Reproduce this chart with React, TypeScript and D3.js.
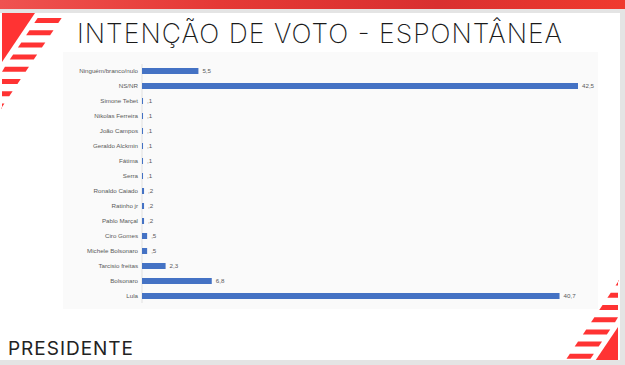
import React from "react";
import * as d3 from "d3";

// candidates from top to bottom, as in the slide
const categories = [
  "Ninguém/branco/nulo",
  "NS/NR",
  "Simone Tebet",
  "Nikolas Ferreira",
  "João Campos",
  "Geraldo Alckmin",
  "Fátima",
  "Serra",
  "Ronaldo Caiado",
  "Ratinho jr",
  "Pablo Marçal",
  "Ciro Gomes",
  "Michele Bolsonaro",
  "Tarcisio freitas",
  "Bolsonaro",
  "Lula",
];
const values = [5.5, 42.5, 0.1, 0.1, 0.1, 0.1, 0.1, 0.1, 0.2, 0.2, 0.2, 0.5, 0.5, 2.3, 6.8, 40.7];

const title = "INTENÇÃO DE VOTO - ESPONTÂNEA";
const subtitle = "PRESIDENTE";

const W = 625;
const H = 365;

// "0,1" -> ",1" like the excel export
const fmt = (v: number) => String(v).replace(".", ",").replace(/^0,/, ",");

// striped red corner mark, drawn for the top-left corner
function Stripes({ transform }: { transform?: string }) {
  const slope = 0.67;
  const edge = (y: number) => 35 - slope * (y - 13);
  const tri = `M2,13 L35,13 L2,62 Z`;
  const rows = d3.range(8).map((i) => 18 + i * 12.2);
  return (
    <g transform={transform} fill="#ff3333">
      <path d={tri} />
      {rows.map((y0, i) => {
        const y1 = y0 + 5;
        const r0 = edge(y0) + 30;
        const r1 = edge(y1) + 30;
        const l0 = Math.max(2, edge(y0) + 6);
        const l1 = Math.max(2, edge(y1) + 6);
        return <path key={i} d={`M${l0},${y0} L${r0},${y0} L${r1},${y1} L${l1},${y1} Z`} />;
      })}
    </g>
  );
}

export default function App() {
  const margin = { left: 142, top: 63.5, bottom: 303.5 };
  const y = d3
    .scaleBand<string>()
    .domain(categories)
    .range([margin.top, margin.bottom])
    .paddingInner(0.6)
    .paddingOuter(0.3);
  const x = d3.scaleLinear().domain([0, 42.5]).range([margin.left, 578]);
  const font = "'Liberation Sans', Arial, sans-serif";
  const thin = "Inter, 'Open Sans', sans-serif";

  return (
    <svg
      width={W}
      height={H}
      style={{ position: "fixed", left: 0, top: 0, display: "block" }}
      fontFamily={font}
    >
      <defs>
        <linearGradient id="band" x1="0" x2="1" y1="0" y2="0">
          <stop offset="0" stopColor="#ef5350" />
          <stop offset="0.35" stopColor="#e53935" />
          <stop offset="0.7" stopColor="#d93030" />
          <stop offset="1" stopColor="#f03a2e" />
        </linearGradient>
        <clipPath id="slide">
          <rect x={0} y={13} width={620} height={347} />
        </clipPath>
      </defs>
      <rect width={W} height={H} fill="#e4e4e4" />
      <rect width={W} height={9} fill="url(#band)" />
      <rect x={0} y={13} width={620} height={347} fill="#ffffff" />

      <g clipPath="url(#slide)">
        <Stripes />
        <g transform="translate(0,16)">
          <Stripes transform={`rotate(180 ${(2 + 618) / 2} ${(13 + 360) / 2})`} />
        </g>
      </g>

      <text
        x={77}
        y={43}
        fontFamily={thin}
        fontWeight={200}
        fontSize={26.5}
        fill="#1a1a1a"
        textLength={485}
        lengthAdjust="spacing"
      >
        {title}
      </text>

      {/* chart panel */}
      <rect x={63} y={52} width={535} height={257} fill="#fafafa" />
      <line x1={margin.left} x2={margin.left} y1={64} y2={303} stroke="#d9d9d9" strokeWidth={0.8} />

      {categories.map((c, i) => {
        const yy = y(c)!;
        const cy = yy + y.bandwidth() / 2;
        return (
          <g key={c}>
            <rect
              x={x(0)}
              y={yy}
              width={x(values[i]) - x(0)}
              height={y.bandwidth()}
              fill="#4472c4"
            />
            <text x={138} y={cy} dy="0.35em" textAnchor="end" fontSize={6.2} fill="#595959">
              {c}
            </text>
            <text x={x(values[i]) + 4} y={cy} dy="0.35em" fontSize={6.2} fill="#595959">
              {fmt(values[i])}
            </text>
          </g>
        );
      })}

      <text
        x={8}
        y={355}
        fontFamily={thin}
        fontWeight={400}
        fontSize={19}
        fill="#222222"
        textLength={125}
        lengthAdjust="spacing"
      >
        {subtitle}
      </text>
    </svg>
  );
}
